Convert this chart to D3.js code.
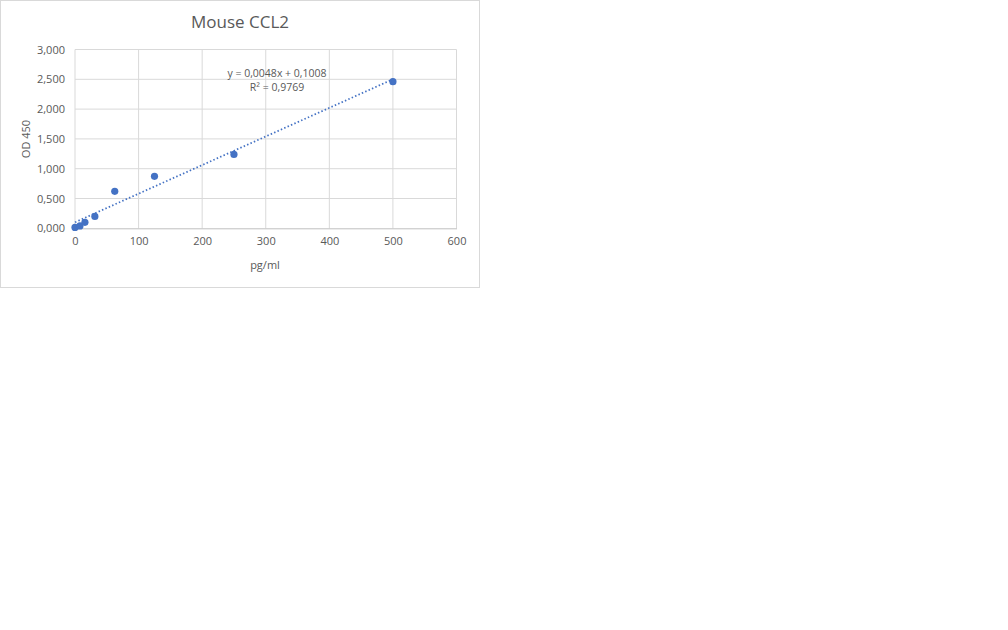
<!DOCTYPE html>
<html><head><meta charset="utf-8">
<script src="https://cdn.jsdelivr.net/npm/d3@7"></script>
<style>body{margin:0;background:#fff}text{font-family:"Open Sans","Noto Sans",sans-serif;fill:#595959}</style>
</head><body><svg id="c" width="1008" height="630"></svg>
<script>
const concentrations = [0, 7.8, 15.6, 31.25, 62.5, 125, 250, 500];
const odValues = [0.015, 0.04, 0.10, 0.20, 0.62, 0.872, 1.24, 2.46];
const xTicks = [0, 100, 200, 300, 400, 500, 600];
const yTicks = [0, 0.5, 1, 1.5, 2, 2.5, 3];
const slope = 0.0048, intercept = 0.1008;
const title = "Mouse CCL2", xTitle = "pg/ml", yTitle = "OD 450";
const eqText = "y = 0,0048x + 0,1008", r2Text = "R² = 0,9769";

const svg = d3.select("#c");
svg.append("rect").attr("x",0.5).attr("y",0.5).attr("width",479).attr("height",287)
  .attr("fill","#fff").attr("stroke","#d9d9d9");
const L=75, R=456.5, T=49.5, B=228.3;
const x = d3.scaleLinear().domain([0,600]).range([L,R]);
const y = d3.scaleLinear().domain([0,3]).range([B,T]);
const fmt = v => d3.format(",.3f")(v).replace(".", "#").replace(",", ".").replace("#", ",").replace(".", ",");
const fmtY = v => { const s = d3.format(".3f")(v).replace(".", ","); return s.length>5 ? s : s; };

// gridlines
svg.append("g").selectAll("line").data(yTicks.slice(1)).join("line")
  .attr("x1",L).attr("x2",R).attr("y1",d=>y(d)).attr("y2",d=>y(d)).attr("stroke","#d9d9d9");
svg.append("g").selectAll("line").data(xTicks).join("line")
  .attr("x1",d=>x(d)).attr("x2",d=>x(d)).attr("y1",T).attr("y2",B).attr("stroke","#d9d9d9");
// x axis
const xa = svg.append("g").attr("transform",`translate(0,${B})`)
  .call(d3.axisBottom(x).tickValues(xTicks).tickSize(0).tickPadding(9).tickFormat(d3.format("d")));
xa.select(".domain").attr("stroke","#bfbfbf");
xa.selectAll("text").style("font-size","11px").attr("fill","#595959");
// y axis
const ya = svg.append("g").attr("transform",`translate(${L},0)`)
  .call(d3.axisLeft(y).tickValues(yTicks).tickSize(0).tickPadding(10)
    .tickFormat(v => d3.format(".3f")(v).replace(".", ",")));
ya.select(".domain").remove();
ya.selectAll("text").style("font-size","11px").attr("fill","#595959");
// trendline
svg.append("line").attr("x1",x(0)).attr("y1",y(intercept)).attr("x2",x(500)).attr("y2",y(intercept+slope*500))
  .attr("stroke","#4472c4").attr("stroke-width",1.75).attr("stroke-dasharray","1.5,2.2");
// points
svg.append("g").selectAll("circle").data(concentrations).join("circle")
  .attr("cx",d=>x(d)).attr("cy",(d,i)=>y(odValues[i])).attr("r",3.6).attr("fill","#4472c4");
// texts
svg.append("text").attr("x",240).attr("y",28).attr("text-anchor","middle").style("font-size","17px").text(title);
svg.append("text").attr("x",265).attr("y",269).attr("text-anchor","middle").style("font-size","11px").text(xTitle);
svg.append("text").attr("transform","translate(30,139) rotate(-90)").attr("text-anchor","middle").style("font-size","11px").text(yTitle);
svg.append("text").attr("x",277).attr("y",76.5).attr("text-anchor","middle").style("font-size","10.5px").text(eqText);
svg.append("text").attr("x",277).attr("y",91).attr("text-anchor","middle").style("font-size","10.5px").text(r2Text);
</script></body></html>
